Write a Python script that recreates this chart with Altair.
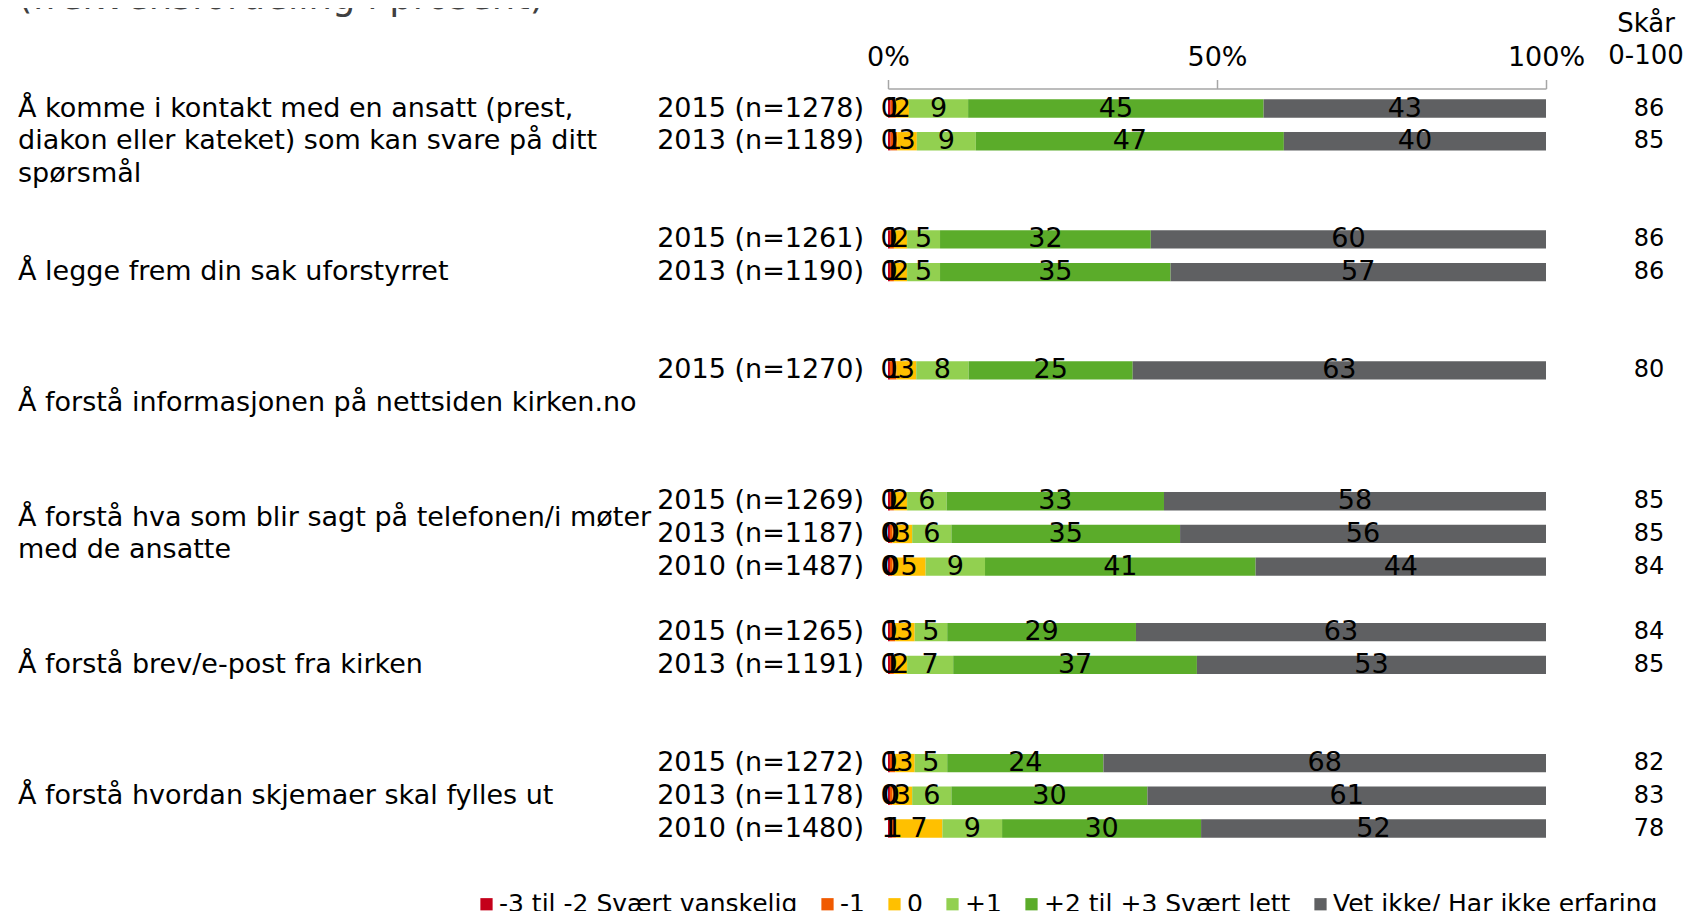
import altair as alt
import pandas as pd

# ---------------- data ----------------
questions = [
    "Å komme i kontakt med en ansatt (prest,\ndiakon eller kateket) som kan svare på ditt\nspørsmål",
    "Å legge frem din sak uforstyrret",
    "Å forstå informasjonen på nettsiden kirken.no",
    "Å forstå hva som blir sagt på telefonen/i møter\nmed de ansatte",
    "Å forstå brev/e-post fra kirken",
    "Å forstå hvordan skjemaer skal fylles ut",
]
row_question = [0, 0, 1, 1, 2, 3, 3, 3, 4, 4, 5, 5, 5]
row_labels = [
    "2015 (n=1278)", "2013 (n=1189)",
    "2015 (n=1261)", "2013 (n=1190)",
    "2015 (n=1270)",
    "2015 (n=1269)", "2013 (n=1187)", "2010 (n=1487)",
    "2015 (n=1265)", "2013 (n=1191)",
    "2015 (n=1272)", "2013 (n=1178)", "2010 (n=1480)",
]
scores = [86, 85, 86, 86, 80, 85, 85, 84, 84, 85, 82, 83, 78]

categories = ["-3 til -2 Svært vanskelig", "-1", "0", "+1",
              "+2 til +3 Svært lett", "Vet ikke/ Har ikke erfaring"]
colors = ["#C4001A", "#F05A00", "#FFC000", "#92D050", "#5BAC2A", "#5F6062"]

v_neg3 = [0.4, 0.4, 0.3, 0.3, 0.3, 0.3, 0.3, 0.3, 0.3, 0.3, 0.3, 0.3, 0.6]
v_neg1 = [0.8, 1.0, 0.6, 0.6, 1.0, 0.6, 0.4, 0.4, 0.8, 0.6, 0.8, 0.4, 0.6]
v_zero = [2, 3, 2, 2, 3, 2, 3, 5, 3, 2, 3, 3, 7]
v_pos1 = [9, 9, 5, 5, 8, 6, 6, 9, 5, 7, 5, 6, 9]
v_pos2 = [45, 47, 32, 35, 25, 33, 35, 41, 29, 37, 24, 30, 30]
v_dk = [43, 40, 60, 57, 63, 58, 56, 44, 63, 53, 68, 61, 52]

# ---------------- tables ----------------
series = [v_neg3, v_neg1, v_zero, v_pos1, v_pos2, v_dk]
slots = []
counter = {}
for q in row_question:
    k = counter.get(q, 0)
    counter[q] = k + 1
    slots.append(q * 4 + k)

seg_rows = []
for r in range(len(row_labels)):
    for ci, cat in enumerate(categories):
        seg_rows.append({"row": r, "slot": slots[r], "cat": cat, "ci": ci,
                         "value": series[ci][r]})
seg_df = pd.DataFrame(seg_rows)

row_df = pd.DataFrame({"slot": slots, "label": row_labels,
                       "score": [str(s) for s in scores]})

LINE_SLOTS = 0.993  # one text line expressed in row slots
q_rows = []
for i, qtext in enumerate(questions):
    lines = qtext.split("\n")
    n = len(lines)
    for j, ln in enumerate(lines):
        q_rows.append({"slot": i * 4 + 1 + (j - (n - 1) / 2) * LINE_SLOTS,
                       "q": ln})
q_df = pd.DataFrame(q_rows)

FONT = "DejaVu Sans"
FS = 27

xscale = alt.Scale(domain=[0, 100], range=[880, 1538], nice=False, zero=False)
yscale = alt.Scale(domain=[0, 22], range=[20, 740], nice=False, zero=False)

base = alt.Chart(seg_df).transform_stack(
    stack="value", groupby=["row"], as_=["f0", "f1"], offset="normalize",
    sort=[alt.SortField("ci", order="ascending")]
).transform_calculate(
    x0="datum.f0 * 100", x1="datum.f1 * 100",
    y0="datum.slot - 0.28", y1="datum.slot + 0.28",
    xm="(datum.f0 + datum.f1) * 50"
)

bars = base.mark_rect().encode(
    x=alt.X("x0:Q", scale=xscale,
            axis=alt.Axis(orient="top", values=[0, 50, 100],
                          labelExpr="datum.value + '%'", title=None, grid=False,
                          domainColor="#a6a6a6", domainWidth=1.5,
                          tickColor="#a6a6a6", tickWidth=1.5, tickSize=9,
                          labelFont=FONT, labelFontSize=FS, labelColor="#000",
                          labelPadding=8, labelFlush=False, labelOverlap=False)),
    x2="x1:Q",
    y=alt.Y("y0:Q", scale=yscale, axis=None),
    y2="y1:Q",
    color=alt.Color("cat:N", sort=categories,
                    scale=alt.Scale(domain=categories, range=colors),
                    legend=alt.Legend(orient="none", legendX=466, legendY=803,
                                      direction="horizontal", columns=6,
                                      title=None, symbolType="square",
                                      symbolSize=150, symbolStrokeWidth=0,
                                      labelFont=FONT, labelFontSize=25,
                                      labelColor="#000", labelOffset=0,
                                      columnPadding=17, padding=0,
                                      labelLimit=500)),
)

seg_text = base.mark_text(font=FONT, fontSize=FS, color="#000",
                          align="center", baseline="middle").encode(
    x=alt.X("xm:Q", scale=xscale),
    y=alt.Y("slot:Q", scale=yscale),
    text=alt.Text("value:Q", format=".0f"),
)

year_text = alt.Chart(row_df).mark_text(font=FONT, fontSize=FS, color="#000",
                                        align="right", baseline="middle").encode(
    x=alt.value(856),
    y=alt.Y("slot:Q", scale=yscale),
    text="label:N",
)

score_text = alt.Chart(row_df).mark_text(font=FONT, fontSize=24, color="#000",
                                         align="center", baseline="middle").encode(
    x=alt.value(1641),
    y=alt.Y("slot:Q", scale=yscale),
    text="score:N",
)

q_text = alt.Chart(q_df).mark_text(font=FONT, fontSize=FS, color="#000",
                                   align="left", baseline="middle").encode(
    x=alt.value(10),
    y=alt.Y("slot:Q", scale=yscale),
    text="q:N",
)

hdr1 = alt.Chart(pd.DataFrame({"t": ["Skår"]})).mark_text(
    font=FONT, fontSize=26, color="#000", align="center", baseline="middle"
).encode(x=alt.value(1638), y=alt.value(-64.5), text="t:N")

hdr2 = alt.Chart(pd.DataFrame({"t": ["0-100"]})).mark_text(
    font=FONT, fontSize=26, color="#000", align="center", baseline="middle"
).encode(x=alt.value(1638), y=alt.value(-32.5), text="t:N")

title = alt.Chart(pd.DataFrame({"t": ["(frekvensfordeling i prosent)"]})).mark_text(
    font=FONT, fontSize=37, color="#404040", align="left", baseline="alphabetic"
).encode(x=alt.value(10), y=alt.value(-80), text="t:N")

chart = alt.layer(bars, seg_text, year_text, score_text, q_text, hdr1, hdr2, title).properties(
    width=1677, height=822,
    padding={"left": 0, "top": 80.5, "right": 0, "bottom": 0},
    autosize=alt.AutoSizeParams(type="none"),
    background="white",
).configure_view(stroke=None)

chart.save("out.html", embed_options={"renderer": "svg", "actions": False})
